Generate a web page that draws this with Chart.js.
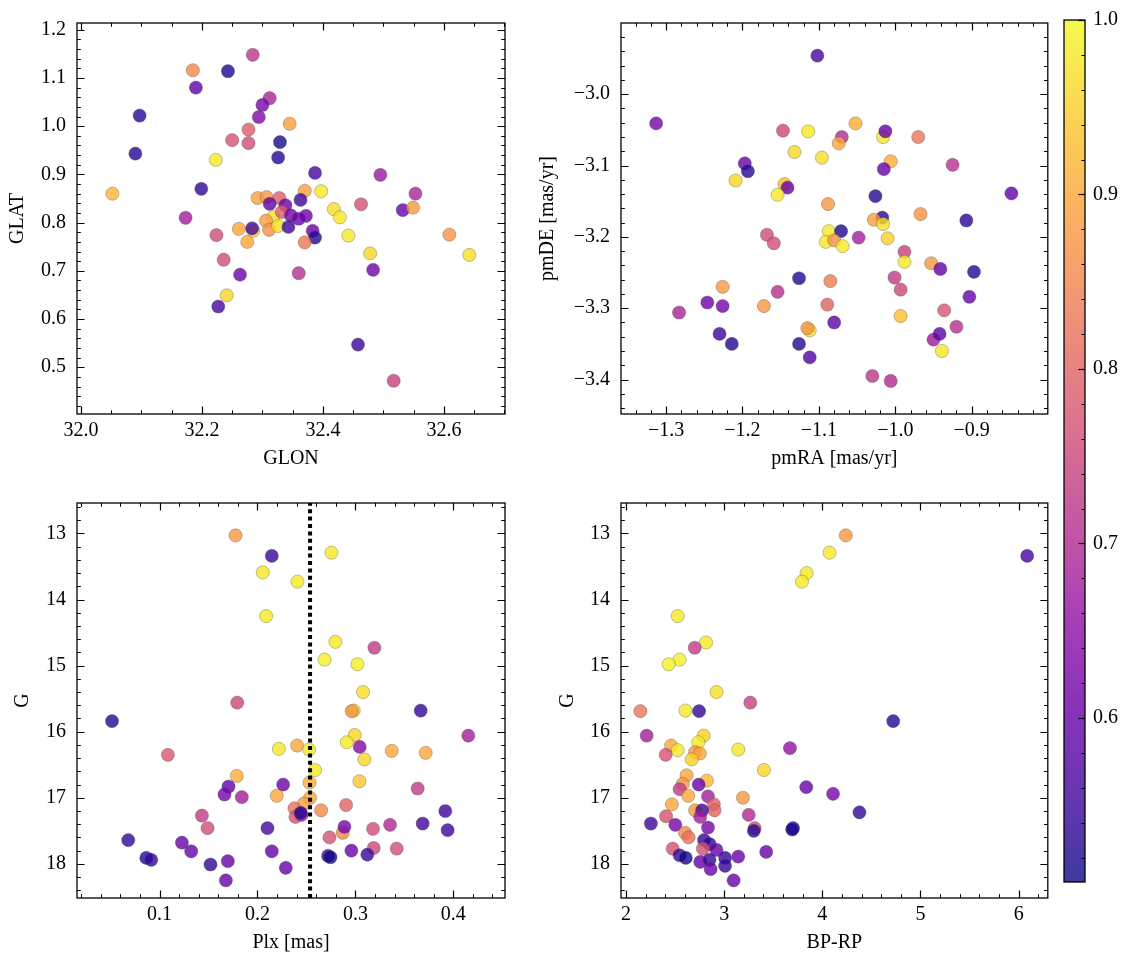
<!DOCTYPE html>
<html><head><meta charset="utf-8">
<script src="https://cdn.jsdelivr.net/npm/chart.js@4.4.1/dist/chart.umd.min.js"></script>
<style>
html,body{margin:0;padding:0;background:#fff;}
body{width:1133px;height:965px;position:relative;overflow:hidden;}
canvas{position:absolute;}
</style></head><body>
<canvas id="c1"></canvas><canvas id="c2"></canvas><canvas id="c3"></canvas><canvas id="c4"></canvas><canvas id="cb"></canvas>
<script>
// ---------- data ----------
const glon = [32.284,32.185,32.243,32.190,32.312,32.300,32.294,32.097,32.345,32.277,32.250,32.277,32.329,32.326,32.090,32.223,32.387,32.495,32.052,32.199,32.553,32.370,32.397,32.292,32.307,32.328,32.312,32.338,32.363,32.463,32.418,32.428,32.532,32.549,32.173,32.285,32.318,32.306,32.332,32.347,32.360,32.372,32.311,32.326,32.343,32.283,32.261,32.224,32.275,32.383,32.387,32.370,32.442,32.478,32.609,32.642,32.236,32.263,32.360,32.483,32.241,32.227,32.458,32.517];
const glat = [1.148,1.116,1.114,1.080,1.058,1.044,1.019,1.022,1.005,0.993,0.971,0.965,0.967,0.935,0.943,0.930,0.903,0.899,0.860,0.870,0.860,0.866,0.865,0.851,0.853,0.851,0.839,0.836,0.847,0.838,0.828,0.811,0.826,0.831,0.810,0.783,0.812,0.804,0.822,0.815,0.808,0.814,0.785,0.793,0.791,0.788,0.787,0.774,0.760,0.783,0.769,0.759,0.773,0.736,0.775,0.733,0.723,0.692,0.695,0.702,0.649,0.626,0.547,0.472];
const probPos = [0.72,0.86,0.52,0.59,0.69,0.62,0.63,0.53,0.89,0.79,0.77,0.76,0.52,0.53,0.53,0.98,0.56,0.67,0.92,0.54,0.69,0.89,0.98,0.89,0.88,0.79,0.59,0.60,0.55,0.77,0.97,0.98,0.60,0.88,0.68,0.96,0.97,0.89,0.79,0.61,0.60,0.61,0.87,0.97,0.55,0.56,0.90,0.76,0.90,0.60,0.53,0.83,0.98,0.96,0.87,0.97,0.76,0.61,0.71,0.61,0.96,0.56,0.55,0.74];

const pmra = [-1.102,-1.313,-1.147,-1.114,-1.052,-1.070,-1.074,-1.016,-1.013,-0.970,-1.132,-1.096,-1.006,-1.197,-1.193,-1.015,-0.925,-1.209,-1.145,-1.141,-1.154,-0.848,-1.026,-1.088,-0.967,-0.907,-1.017,-1.028,-1.016,-1.168,-1.159,-1.087,-1.071,-1.091,-1.080,-1.069,-1.048,-1.010,-0.988,-0.988,-0.953,-0.941,-0.897,-1.126,-1.085,-1.001,-0.993,-1.226,-1.154,-1.246,-1.226,-1.283,-1.172,-1.089,-0.903,-0.993,-0.936,-1.080,-1.112,-1.115,-0.920,-0.950,-0.942,-0.939,-1.230,-1.214,-1.126,-1.112,-1.030,-1.006];
const pmde = [-2.946,-3.041,-3.051,-3.052,-3.041,-3.060,-3.069,-3.060,-3.052,-3.060,-3.081,-3.089,-3.094,-3.097,-3.108,-3.105,-3.099,-3.121,-3.126,-3.131,-3.141,-3.139,-3.143,-3.154,-3.168,-3.177,-3.173,-3.176,-3.182,-3.197,-3.209,-3.192,-3.192,-3.207,-3.205,-3.213,-3.201,-3.202,-3.221,-3.235,-3.237,-3.245,-3.249,-3.258,-3.262,-3.257,-3.274,-3.270,-3.277,-3.292,-3.297,-3.306,-3.297,-3.295,-3.284,-3.311,-3.303,-3.320,-3.331,-3.328,-3.326,-3.344,-3.336,-3.360,-3.336,-3.350,-3.350,-3.369,-3.395,-3.402];
const probPm = [0.56,0.62,0.75,0.98,0.91,0.70,0.90,0.98,0.60,0.83,0.96,0.97,0.91,0.60,0.53,0.60,0.71,0.96,0.93,0.60,0.98,0.59,0.53,0.88,0.87,0.53,0.53,0.89,0.97,0.76,0.76,0.98,0.52,0.98,0.87,0.98,0.68,0.95,0.74,0.98,0.88,0.60,0.53,0.53,0.84,0.73,0.75,0.88,0.71,0.61,0.62,0.69,0.88,0.80,0.60,0.93,0.78,0.59,0.97,0.87,0.71,0.67,0.59,0.98,0.55,0.53,0.53,0.57,0.72,0.70];

const plx = [0.1776,0.2146,0.2755,0.2054,0.2408,0.2088,0.2796,0.3194,0.2684,0.3020,0.3078,0.1793,0.2983,0.2963,0.3667,0.0514,0.4153,0.2993,0.2912,0.1085,0.2218,0.2405,0.2527,0.3044,0.3371,0.3718,0.3092,0.2588,0.1789,0.3041,0.2531,0.1704,0.2262,0.1663,0.1840,0.2197,0.2537,0.2473,0.3636,0.2905,0.2378,0.2650,0.2388,0.2449,0.2442,0.1432,0.1490,0.3918,0.2102,0.2871,0.2888,0.3180,0.3354,0.3687,0.3942,0.2735,0.0680,0.1228,0.1323,0.2146,0.2959,0.3187,0.3422,0.0864,0.0915,0.2721,0.2745,0.3122,0.1520,0.1697,0.2289,0.1677];
const gPlx = [13.03,13.34,13.29,13.59,13.73,14.25,14.64,14.73,14.91,14.98,15.40,15.56,15.68,15.69,15.68,15.84,16.06,16.05,16.16,16.35,16.26,16.21,16.27,16.23,16.29,16.32,16.42,16.58,16.67,16.75,16.77,16.83,16.80,16.95,16.99,16.97,17.00,17.09,16.86,17.11,17.16,17.19,17.29,17.26,17.23,17.27,17.46,17.20,17.46,17.53,17.44,17.47,17.41,17.39,17.49,17.60,17.64,17.68,17.81,17.81,17.80,17.76,17.77,17.91,17.94,17.88,17.90,17.86,18.01,17.96,18.06,18.25];
const probPlx = [0.88,0.55,0.98,0.98,0.98,0.98,0.98,0.73,0.99,0.99,0.97,0.75,0.97,0.87,0.54,0.53,0.68,0.96,0.98,0.78,0.98,0.90,0.98,0.64,0.90,0.90,0.96,0.98,0.91,0.94,0.91,0.59,0.61,0.62,0.68,0.90,0.90,0.89,0.73,0.80,0.82,0.86,0.77,0.68,0.53,0.73,0.76,0.55,0.56,0.85,0.62,0.76,0.70,0.56,0.55,0.77,0.54,0.60,0.60,0.60,0.60,0.75,0.76,0.53,0.54,0.54,0.51,0.55,0.54,0.60,0.60,0.60];

const bprp = [4.239,4.073,3.840,3.792,6.087,2.526,2.815,2.700,2.546,2.435,2.922,3.266,2.146,2.605,2.744,4.722,2.210,2.791,2.736,2.459,2.526,2.404,2.704,2.752,2.669,3.143,3.670,3.405,2.617,2.578,2.823,2.740,2.546,3.836,4.109,2.633,2.835,3.191,2.467,2.894,2.704,2.902,2.775,2.756,2.408,3.250,4.378,2.253,2.502,2.835,3.310,3.302,3.701,3.693,2.601,2.637,2.795,2.851,2.783,2.475,2.922,3.428,2.546,2.609,3.143,3.009,3.009,2.756,2.851,2.862,3.096];
const gCmd = [13.03,13.29,13.60,13.73,13.34,14.25,14.65,14.73,14.91,14.98,15.40,15.56,15.69,15.68,15.69,15.84,16.06,16.06,16.16,16.21,16.28,16.35,16.31,16.33,16.42,16.27,16.25,16.58,16.66,16.79,16.74,16.80,16.87,16.84,16.94,16.97,16.98,17.00,17.10,17.10,17.19,17.19,17.19,17.29,17.28,17.26,17.22,17.39,17.41,17.45,17.46,17.50,17.46,17.48,17.53,17.60,17.64,17.70,17.77,17.77,17.79,17.82,17.87,17.91,17.89,17.91,18.03,17.97,17.94,18.08,18.25];
const probCmd = [0.88,0.98,0.98,0.98,0.56,0.98,0.98,0.73,0.99,0.99,0.97,0.74,0.83,0.98,0.54,0.53,0.68,0.95,0.98,0.90,0.98,0.77,0.88,0.90,0.95,0.98,0.66,0.96,0.90,0.88,0.92,0.60,0.73,0.60,0.62,0.90,0.68,0.88,0.90,0.80,0.88,0.80,0.55,0.68,0.77,0.70,0.54,0.55,0.62,0.62,0.76,0.53,0.55,0.51,0.86,0.82,0.54,0.54,0.77,0.77,0.60,0.60,0.54,0.51,0.60,0.54,0.54,0.60,0.54,0.60,0.60];

const glonTicks = [32.0,32.2,32.4,32.6];
const glatTicks = [0.5,0.6,0.7,0.8,0.9,1.0,1.1,1.2];
const pmraTicks = [-1.3,-1.2,-1.1,-1.0,-0.9];
const pmdeTicks = [-3.4,-3.3,-3.2,-3.1,-3.0];
const plxTicks = [0.1,0.2,0.3,0.4];
const gTicks = [13,14,15,16,17,18];
const bprpTicks = [2,3,4,5,6];
const cbTicks = [0.6,0.7,0.8,0.9,1.0];
const plxCut = 0.2537;
const vmin = 0.506, vmax = 1.0;

// ---------- helpers ----------
const FONT = "'Liberation Serif', 'DejaVu Serif', serif";
Chart.defaults.font.family = FONT;
Chart.defaults.font.size = 20;
Chart.defaults.color = '#000';

const PLASMA = [[13,8,135],[65,4,157],[106,0,168],[143,13,164],[177,42,144],[204,71,120],[225,100,98],[242,132,75],[252,166,54],[252,206,37],[240,249,33]];
function plasma(t){
  t = Math.min(1, Math.max(0, t));
  const f = t*10, i = Math.min(9, Math.floor(f)), u = f - i;
  const a = PLASMA[i], b = PLASMA[i+1];
  return a.map((v,k)=>Math.round(v + (b[k]-v)*u));
}
function colorFor(p, alpha){
  const c = plasma((p - vmin)/(vmax - vmin));
  return `rgba(${c[0]},${c[1]},${c[2]},${alpha})`;
}
function fmt(v, dec){ return v.toFixed(dec).replace('-', '\u2212'); }

function tickList(scale, majors, minorStep){
  const out = [];
  const lo = Math.min(scale.min, scale.max), hi = Math.max(scale.min, scale.max);
  majors.forEach(v=>{ if (v>=lo-1e-9 && v<=hi+1e-9) out.push({v, major:true}); });
  let k = Math.ceil(lo/minorStep - 1e-6);
  for (;; k++){
    const v = k*minorStep;
    if (v > hi + 1e-9) break;
    if (majors.some(m=>Math.abs(m-v) < minorStep*0.01)) continue;
    out.push({v, major:false});
  }
  return out;
}

function framePlugin(cfg){
  return {
    id:'frame'+cfg.id,
    afterDatasetsDraw(chart){
      const {ctx, chartArea:a, scales:{x, y}} = chart;
      ctx.save();
      if (cfg.vline !== undefined){
        const px = x.getPixelForValue(cfg.vline);
        ctx.strokeStyle = '#000';
        ctx.lineWidth = 4;
        ctx.setLineDash([4, 3.4]);
        ctx.beginPath(); ctx.moveTo(px, a.bottom); ctx.lineTo(px, a.top); ctx.stroke();
        ctx.setLineDash([]);
      }
      ctx.strokeStyle = '#000';
      tickList(x, cfg.xticks, cfg.xminor).forEach(t=>{
        const px = Math.round(x.getPixelForValue(t.v)) + 0.5;
        const len = t.major ? 7.5 : 3.8;
        ctx.lineWidth = t.major ? 1.2 : 1;
        ctx.beginPath();
        ctx.moveTo(px, a.bottom); ctx.lineTo(px, a.bottom - len);
        ctx.moveTo(px, a.top); ctx.lineTo(px, a.top + len);
        ctx.stroke();
      });
      tickList(y, cfg.yticks, cfg.yminor).forEach(t=>{
        const py = Math.round(y.getPixelForValue(t.v)) + 0.5;
        const len = t.major ? 7.5 : 3.8;
        ctx.lineWidth = t.major ? 1.2 : 1;
        ctx.beginPath();
        ctx.moveTo(a.left, py); ctx.lineTo(a.left + len, py);
        ctx.moveTo(a.right, py); ctx.lineTo(a.right - len, py);
        ctx.stroke();
      });
      ctx.lineWidth = 1.3;
      ctx.strokeRect(a.left, a.top, a.right - a.left, a.bottom - a.top);
      ctx.restore();
    }
  };
}

function setupCanvas(id, box){
  const cv = document.getElementById(id);
  cv.width = box[2]; cv.height = box[3];
  cv.style.left = box[0]+'px'; cv.style.top = box[1]+'px';
  cv.style.width = box[2]+'px'; cv.style.height = box[3]+'px';
  return cv;
}

function makePanel(cfg){
  const box = cfg.box, [L,T,R,B] = cfg.area;
  const cv = setupCanvas(cfg.id, box);
  const pts = cfg.xs.map((x,i)=>({x, y: cfg.ys[i]}));
  new Chart(cv, {
    type:'scatter',
    data:{datasets:[{
      data: pts,
      backgroundColor: cfg.probs.map(p=>colorFor(p,0.8)),
      borderColor: 'rgba(70,70,70,0.55)',
      borderWidth: 0.6,
      pointRadius: 6.6,
      pointHoverRadius: 6.6
    }]},
    options:{
      responsive:false, animation:false, devicePixelRatio:1, events:[],
      layout:{padding:{left:0, top:T-box[1], right:box[0]+box[2]-R, bottom:0}},
      plugins:{legend:{display:false}, tooltip:{enabled:false}},
      scales:{
        x:{
          type:'linear', position:'bottom', min:cfg.xmin, max:cfg.xmax,
          grid:{display:false, drawTicks:false}, border:{display:false},
          afterBuildTicks: s=>{ s.ticks = cfg.xticks.map(v=>({value:v})); },
          afterFit: s=>{ s.height = box[1]+box[3]-B; },
          ticks:{padding:5, autoSkip:false, maxRotation:0, minRotation:0, color:'#000', callback:v=>fmt(v, cfg.xdec)},
          title:{display:true, text:cfg.xtitle, color:'#000', padding:{top:0, bottom:cfg.xtpad}}
        },
        y:{
          type:'linear', position:'left', min:cfg.ymin, max:cfg.ymax, reverse:!!cfg.yrev,
          grid:{display:false, drawTicks:false}, border:{display:false},
          afterBuildTicks: s=>{ s.ticks = cfg.yticks.map(v=>({value:v})); },
          afterFit: s=>{ s.width = L - box[0]; },
          ticks:{padding:11, autoSkip:false, color:'#000', callback:v=>fmt(v, cfg.ydec)},
          title:{display:true, text:cfg.ytitle, color:'#000', padding:{top:cfg.ytpad, bottom:0}}
        }
      }
    },
    plugins:[framePlugin(cfg)]
  });
}

// ---------- panels ----------
makePanel({id:'c1', box:[0,0,520,480], area:[77,16,505,414],
  xs:glon, ys:glat, probs:probPos,
  xmin:31.9935, xmax:32.701, ymin:0.403, ymax:1.214,
  xticks:glonTicks, yticks:glatTicks, xminor:0.05, yminor:0.02, xdec:1, ydec:1,
  xtitle:'GLON', ytitle:'GLAT', xtpad:9, ytpad:5.5});

makePanel({id:'c2', box:[520,0,535,480], area:[621,16,1050,414],
  xs:pmra, ys:pmde, probs:probPm,
  xmin:-1.359, xmax:-0.8004, ymin:-3.4483, ymax:-2.9002,
  xticks:pmraTicks, yticks:pmdeTicks, xminor:0.02, yminor:0.02, xdec:1, ydec:1,
  xtitle:'pmRA [mas/yr]', ytitle:'pmDE [mas/yr]', xtpad:9, ytpad:16});

makePanel({id:'c3', box:[0,480,520,485], area:[77,502,505,898],
  xs:plx, ys:gPlx, probs:probPlx,
  xmin:0.01565, xmax:0.4528, ymin:12.539, ymax:18.517, yrev:true,
  xticks:plxTicks, yticks:gTicks, xminor:0.02, yminor:0.2, xdec:1, ydec:0,
  xtitle:'Plx [mas]', ytitle:'G', xtpad:10, ytpad:10.5, vline:plxCut});

makePanel({id:'c4', box:[520,480,535,485], area:[621,502,1050,898],
  xs:bprp, ys:gCmd, probs:probCmd,
  xmin:1.9486, xmax:6.297, ymin:12.539, ymax:18.517, yrev:true,
  xticks:bprpTicks, yticks:gTicks, xminor:0.2, yminor:0.2, xdec:0, ydec:0,
  xtitle:'BP-RP', ytitle:'G', xtpad:10, ytpad:36});

// ---------- colorbar ----------
(function(){
  const box = [1055,0,78,965];
  const cv = setupCanvas('cb', box);
  new Chart(cv, {
    type:'scatter',
    data:{datasets:[{data:[]}]},
    options:{
      responsive:false, animation:false, devicePixelRatio:1, events:[],
      layout:{padding:{left:9, top:16, right:0, bottom:965-882}},
      plugins:{legend:{display:false}, tooltip:{enabled:false}},
      scales:{
        x:{display:false, min:0, max:1},
        y:{
          type:'linear', position:'right', min:vmin, max:vmax,
          grid:{display:false, drawTicks:false}, border:{display:false},
          afterBuildTicks: s=>{ s.ticks = cbTicks.map(v=>({value:v})); },
          afterFit: s=>{ s.width = 48; },
          ticks:{padding:8, autoSkip:false, color:'#000', callback:v=>fmt(v,1)}
        }
      }
    },
    plugins:[{
      id:'cbar',
      afterDatasetsDraw(chart){
        const {ctx, chartArea:a, scales:{y}} = chart;
        ctx.save();
        const y0 = y.getPixelForValue(vmin), y1 = y.getPixelForValue(vmax);
        const g = ctx.createLinearGradient(0, y0, 0, y1);
        for (let i=0;i<=20;i++){
          const t = i/20;
          g.addColorStop(t, colorFor(vmin + t*(vmax-vmin), 0.8));
        }
        ctx.fillStyle = g;
        ctx.fillRect(a.left, a.top, a.right-a.left, a.bottom-a.top);
        ctx.strokeStyle = '#000';
        tickList(y, cbTicks, 0.02).forEach(t=>{
          const py = Math.round(y.getPixelForValue(t.v)) + 0.5;
          const len = t.major ? 6.5 : 3.5;
          ctx.lineWidth = t.major ? 1.2 : 1;
          ctx.beginPath(); ctx.moveTo(a.right, py); ctx.lineTo(a.right - len, py); ctx.stroke();
        });
        ctx.lineWidth = 1.3;
        ctx.strokeRect(a.left, a.top, a.right-a.left, a.bottom-a.top);
        ctx.restore();
      }
    }]
  });
})();
</script>
</body></html>
